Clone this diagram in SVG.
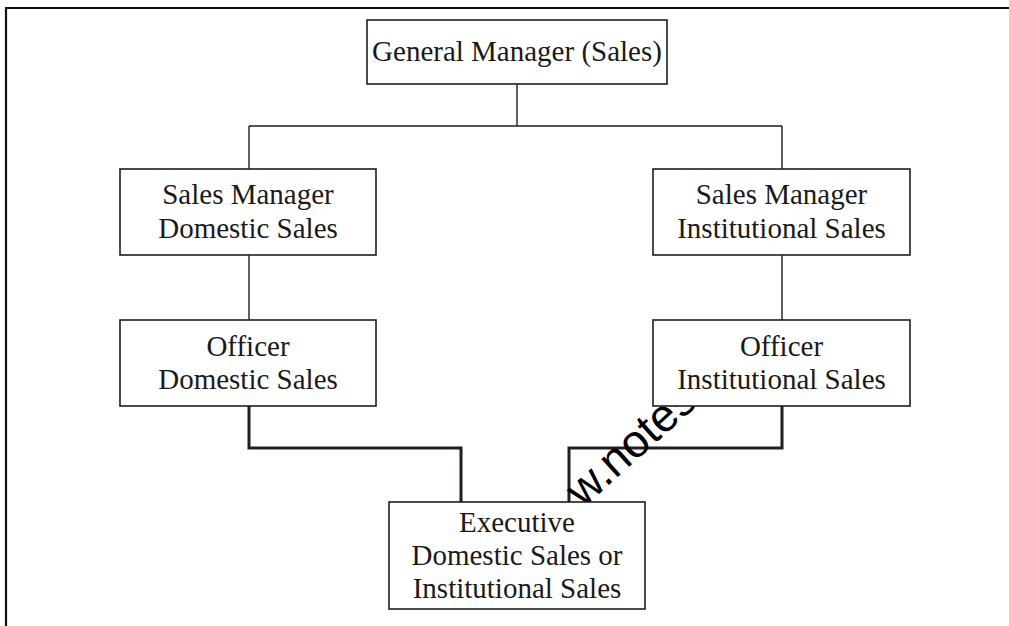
<svg xmlns="http://www.w3.org/2000/svg" width="1009" height="626" viewBox="0 0 1009 626">
<style>
.box{fill:#fff;stroke:#1e1e1e;stroke-width:1.6}
.thin{fill:none;stroke:#1e1e1e;stroke-width:1.4}
.thick{fill:none;stroke:#231f20;stroke-width:3}
.lbl{font-family:"Liberation Serif","Times New Roman",serif;font-size:29px;fill:#1a1a1a;text-anchor:middle}
.wm{font-family:"Liberation Sans",Arial,sans-serif;font-size:46px;fill:#000;text-anchor:end}
</style>
<rect width="1009" height="626" fill="#fff"/>
<path d="M6 626V8H1009" fill="none" stroke="#111" stroke-width="2.2"/>
<g id="connectors">
<path class="thin" d="M517 84V126M249 126H782M249 126V169M782 126V169"/>
<path class="thin" d="M249 255V320M782 255V320"/>
<path class="thick" d="M249 406V448H461V502"/>
<path class="thick" d="M782 406V448H569V502"/>
</g>
<text class="wm" transform="translate(699 404) rotate(-42)">w.notes</text>
<g id="gm">
<rect class="box" x="367" y="20" width="300" height="64"/>
<text class="lbl" x="517" y="61">General Manager (Sales)</text>
</g>
<g id="sm-domestic">
<rect class="box" x="120" y="169" width="256" height="86"/>
<text class="lbl" x="248" y="204">Sales Manager</text>
<text class="lbl" x="248" y="238">Domestic Sales</text>
</g>
<g id="sm-institutional">
<rect class="box" x="653" y="169" width="257" height="86"/>
<text class="lbl" x="781.5" y="204">Sales Manager</text>
<text class="lbl" x="781.5" y="238">Institutional Sales</text>
</g>
<g id="officer-domestic">
<rect class="box" x="120" y="320" width="256" height="86"/>
<text class="lbl" x="248" y="356">Officer</text>
<text class="lbl" x="248" y="389">Domestic Sales</text>
</g>
<g id="officer-institutional">
<rect class="box" x="653" y="320" width="257" height="86"/>
<text class="lbl" x="781.5" y="356">Officer</text>
<text class="lbl" x="781.5" y="389">Institutional Sales</text>
</g>
<g id="executive">
<rect class="box" x="389" y="502" width="256" height="107"/>
<text class="lbl" x="517" y="532">Executive</text>
<text class="lbl" x="517" y="565">Domestic Sales or</text>
<text class="lbl" x="517" y="598">Institutional Sales</text>
</g>
</svg>
